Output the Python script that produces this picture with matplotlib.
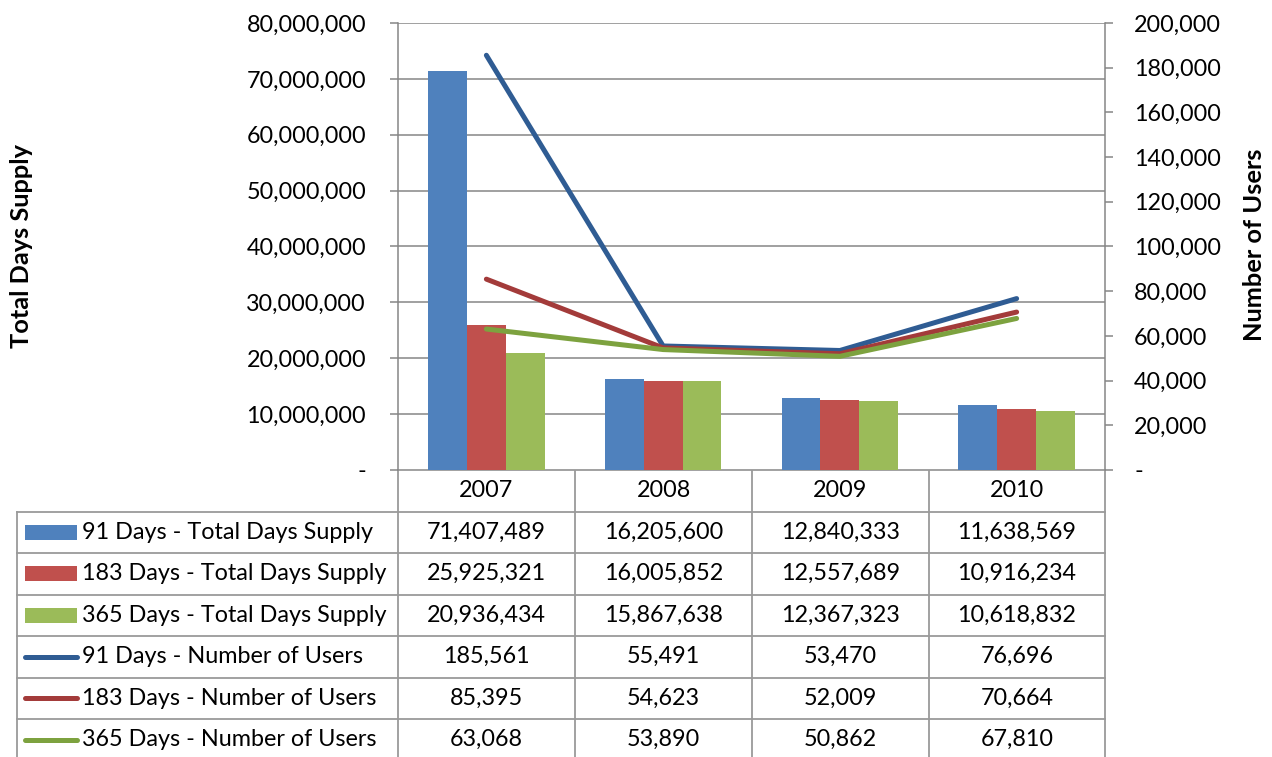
import numpy as np
import matplotlib
matplotlib.use("Agg")
import matplotlib.pyplot as plt
from matplotlib.ticker import FuncFormatter

plt.rcParams['font.family'] = ['Lato', 'DejaVu Sans']

years = ["2007", "2008", "2009", "2010"]
supply_91 = [71407489, 16205600, 12840333, 11638569]
supply_183 = [25925321, 16005852, 12557689, 10916234]
supply_365 = [20936434, 15867638, 12367323, 10618832]
users_91 = [185561, 55491, 53470, 76696]
users_183 = [85395, 54623, 52009, 70664]
users_365 = [63068, 53890, 50862, 67810]

bar_names = ["91 Days - Total Days Supply", "183 Days - Total Days Supply", "365 Days - Total Days Supply"]
line_names = ["91 Days - Number of Users", "183 Days - Number of Users", "365 Days - Number of Users"]
bar_colors = ["#4F81BD", "#C0504D", "#9BBB59"]
line_colors = ["#2F5C93", "#A33B3A", "#7DA23F"]

W, H = 1272, 757
fig = plt.figure(figsize=(W / 100, H / 100), dpi=100)
fs = 16.8
grid_c = "#868686"

# plot area in pixels
px0, px1, py0, py1 = 398, 1105, 23, 470
ax = fig.add_axes([px0 / W, 1 - py1 / H, (px1 - px0) / W, (py1 - py0) / H])
ax2 = ax.twinx()

x = np.arange(len(years))
bw = 0.22
for i, (vals, c) in enumerate(zip([supply_91, supply_183, supply_365], bar_colors)):
    ax.bar(x + (i - 1) * bw, vals, width=bw, color=c, zorder=2)
for vals, c in zip([users_91, users_183, users_365], line_colors):
    ax2.plot(x, vals, color=c, lw=3.6, solid_capstyle='round', zorder=3)

ax.set_xlim(-0.5, 3.5)
ax.set_ylim(0, 80e6)
ax2.set_ylim(0, 200000)
ax.set_yticks(np.arange(0, 80e6 + 1, 10e6))
ax2.set_yticks(np.arange(0, 200001, 20000))
fmt = FuncFormatter(lambda v, p: "-" if v == 0 else f"{v:,.0f}")
ax.yaxis.set_major_formatter(fmt)
ax2.yaxis.set_major_formatter(fmt)
ax.set_xticks([])
ax.yaxis.grid(True, color=grid_c, lw=1.1, zorder=0)
ax.set_axisbelow(True)
for a in (ax, ax2):
    for s in a.spines.values():
        s.set_visible(False)
    a.tick_params(axis='y', colors=grid_c, labelcolor='black', labelsize=fs, length=6, width=1.1)
ax.spines['left'].set_visible(True)
ax.spines['left'].set_color(grid_c)
ax.spines['left'].set_linewidth(1.1)
ax2.spines['right'].set_visible(True)
ax2.spines['right'].set_color(grid_c)
ax2.spines['right'].set_linewidth(1.1)
ax.tick_params(axis='y', pad=17)
ax2.tick_params(axis='y', pad=15)

fig.text(22 / W, 1 - 246 / H, "Total Days Supply", rotation=90, fontsize=fs + 1.5, fontweight='bold',
         ha='center', va='center')
fig.text(1255 / W, 1 - 245 / H, "Number of Users", rotation=90, fontsize=fs + 1.5, fontweight='bold',
         ha='center', va='center')

# data table drawn in pixel coordinates
tb = fig.add_axes([0, 0, 1, 1], zorder=-1)
tb.set_xlim(0, W)
tb.set_ylim(H, 0)
tb.axis('off')
col_x = [17, 398, 575, 752, 929, 1105]
row_y = [470, 511.5, 553, 594.5, 636, 677.5, 719, 760.5]
lc = "#9A9A9A"
lw = 1.3
# header row
tb.plot([col_x[1], col_x[-1]], [row_y[0], row_y[0]], color=lc, lw=lw)
for cx in col_x[1:]:
    tb.plot([cx, cx], [row_y[0], row_y[-1]], color=lc, lw=lw)
tb.plot([col_x[0], col_x[0]], [row_y[1], row_y[-1]], color=lc, lw=lw)
for ry in row_y[1:]:
    tb.plot([col_x[0], col_x[-1]], [ry, ry], color=lc, lw=lw)
for j, yr in enumerate(years):
    tb.text((col_x[j + 1] + col_x[j + 2]) / 2, (row_y[0] + row_y[1]) / 2, yr,
            ha='center', va='center', fontsize=fs)

rows = [supply_91, supply_183, supply_365, users_91, users_183, users_365]
names = bar_names + line_names
for r, (name, vals) in enumerate(zip(names, rows)):
    yc = (row_y[r + 1] + row_y[r + 2]) / 2
    if r < 3:
        tb.add_patch(plt.Rectangle((25, yc - 7.5), 52, 15, color=bar_colors[r], lw=0))
    else:
        tb.plot([25, 77], [yc, yc], color=line_colors[r - 3], lw=3.6, solid_capstyle='round')
    tb.text(82, yc, name, ha='left', va='center', fontsize=fs)
    for j, v in enumerate(vals):
        tb.text((col_x[j + 1] + col_x[j + 2]) / 2, yc, f"{v:,}", ha='center', va='center', fontsize=fs)

fig.savefig("out.png", dpi=100)
